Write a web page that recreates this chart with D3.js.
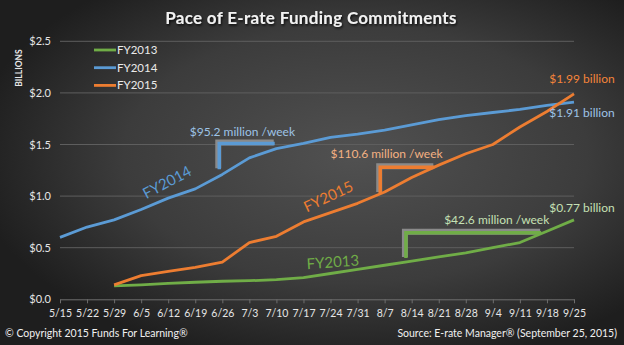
<!DOCTYPE html>
<html><head><meta charset="utf-8">
<script src="https://cdn.jsdelivr.net/npm/d3@7"></script>
<style>
html,body{margin:0;padding:0;background:#2a2a2a;}
svg{display:block;font-family:Lato,"Liberation Sans",sans-serif;}
</style></head>
<body>
<svg id="c" width="624" height="345"></svg>
<script>
const categories = ["5/15","5/22","5/29","6/5","6/12","6/19","6/26","7/3","7/10","7/17","7/24","7/31","8/7","8/14","8/21","8/28","9/4","9/11","9/18","9/25"];
const fy2014 = [0.60,0.70,0.77,0.87,0.98,1.07,1.21,1.37,1.46,1.51,1.57,1.60,1.64,1.69,1.74,1.78,1.81,1.84,1.88,1.91];
const fy2015 = [null,null,0.14,0.23,0.27,0.31,0.36,0.55,0.61,0.75,0.84,0.93,1.04,1.18,1.30,1.41,1.50,1.67,1.82,1.99];
const fy2013 = [null,null,0.13,0.14,0.155,0.165,0.175,0.18,0.19,0.21,0.25,0.29,0.33,0.37,0.41,0.45,0.50,0.55,0.66,0.77];
const yTicks = [0,0.5,1.0,1.5,2.0,2.5];
const seriesNames = ["FY2013","FY2014","FY2015"];
const colors = {FY2013:"#70AD47",FY2014:"#5B9BD5",FY2015:"#ED7D31"};
const lightColors = {FY2013:"#C5E0B4",FY2014:"#9DC3E6",FY2015:"#F4B183"};

const svg = d3.select("#c");
const W=624,H=345;
const defs = svg.append("defs");
const rg = defs.append("radialGradient").attr("id","bg").attr("cx","0.57").attr("cy","0.45").attr("r","0.62")
  .attr("gradientUnits","objectBoundingBox");
rg.append("stop").attr("offset","0").attr("stop-color","#515151");
rg.append("stop").attr("offset","0.6").attr("stop-color","#3c3c3c");
rg.append("stop").attr("offset","1").attr("stop-color","#1e1e1e");
const sh = defs.append("filter").attr("id","sh").attr("x","-10%").attr("y","-50%").attr("width","120%").attr("height","200%");
sh.append("feDropShadow").attr("dx",1).attr("dy",1.5).attr("stdDeviation",1).attr("flood-color","#000").attr("flood-opacity",0.8);

svg.append("rect").attr("width",W).attr("height",H).attr("fill","url(#bg)");

const x = d3.scalePoint().domain(categories).range([60,574]).padding(0);
const xi = d3.scaleLinear().domain([0,categories.length-1]).range([60,574]);
const y = d3.scaleLinear().domain([0,2.5]).range([299.3,41.3]);

// gridlines
svg.append("g").selectAll("line").data(yTicks.filter(d=>d>0)).join("line")
  .attr("x1",60).attr("x2",574).attr("y1",d=>y(d)).attr("y2",d=>y(d))
  .attr("stroke","#5e5e5e").attr("stroke-width",1);

// x axis
const xAxis = svg.append("g").attr("transform",`translate(0,${y(0)})`)
  .call(d3.axisBottom(x).tickSizeInner(4).tickSizeOuter(0).tickPadding(6));
xAxis.select(".domain").attr("stroke","#6e6e6e");
xAxis.selectAll(".tick line").attr("stroke","#6e6e6e");
xAxis.selectAll(".tick text").attr("fill","#e6e6e6").attr("font-size","10.5px").attr("font-family","Lato");

// y axis
const yAxis = svg.append("g").attr("transform","translate(51,0)")
  .call(d3.axisLeft(y).tickValues(yTicks).tickSize(0).tickPadding(0).tickFormat(d=>"$"+d3.format(".1f")(d)));
yAxis.select(".domain").remove();
yAxis.selectAll(".tick text").attr("fill","#e6e6e6").attr("font-size","11px").attr("font-family","Lato");

svg.append("text").attr("transform","translate(22,68) rotate(-90)").attr("text-anchor","middle")
  .attr("fill","#e6e6e6").attr("font-size","8.5px").attr("font-weight","bold").text("BILLIONS");

// title
svg.append("text").attr("x",311).attr("y",24).attr("text-anchor","middle").attr("fill","#f2f2f2")
  .attr("font-size","17px").attr("font-weight","bold").attr("letter-spacing","0.3px").attr("filter","url(#sh)").text("Pace of E-rate Funding Commitments");

// annotations brackets (drawn beneath lines)
const brackets = [
  {s:"FY2014", i0:5.85, i1:7.9, top:1.52, bot:1.27, label:"$95.2 million /week", li:4.8, lv:1.58},
  {s:"FY2015", i0:11.8, i1:13.8, top:1.29, bot:1.04, label:"$110.6 million /week", li:10.0, lv:1.37},
  {s:"FY2013", i0:12.75, i1:17.75, top:0.655, bot:0.41, label:"$42.6 million /week", li:14.2, lv:0.73}
];
const bg = svg.append("g");
brackets.forEach(b=>{
  const p = `M${xi(b.i0)},${y(b.bot)} L${xi(b.i0)},${y(b.top)} L${xi(b.i1)},${y(b.top)}`;
  bg.append("path").attr("d",p).attr("fill","none").attr("stroke","#8a8a8a").attr("stroke-width",6).attr("stroke-linejoin","miter");
  bg.append("path").attr("d",p).attr("fill","none").attr("stroke",colors[b.s]).attr("stroke-width",3.5)
    .attr("transform","translate(1,1)");
  bg.append("text").attr("x",xi(b.li)).attr("y",y(b.lv)).attr("fill",lightColors[b.s]).attr("font-size","12px").text(b.label);
});

// lines
const data = {FY2013:fy2013,FY2014:fy2014,FY2015:fy2015};
const line = d3.line().defined(d=>d.v!=null).x(d=>x(d.c)).y(d=>y(d.v));
seriesNames.forEach(s=>{
  svg.append("path").datum(categories.map((c,i)=>({c,v:data[s][i]})))
    .attr("d",line).attr("fill","none").attr("stroke",colors[s]).attr("stroke-width",2.8).attr("stroke-linejoin","round");
});

// in-line series labels
const inl = [
  {s:"FY2014", i:4.05, v:1.09, rot:-28},
  {s:"FY2015", i:10.0, v:0.95, rot:-25},
  {s:"FY2013", i:10.1, v:0.31, rot:-4}
];
inl.forEach(t=>{
  svg.append("text").attr("transform",`translate(${xi(t.i)},${y(t.v)}) rotate(${t.rot})`)
    .attr("text-anchor","middle").attr("fill",colors[t.s]).attr("font-size","15px").text(t.s);
});

// end labels
const ends = [
  {s:"FY2015", v:fy2015[19], dy:-11, col:"#F4843A"},
  {s:"FY2014", v:fy2014[19], dy:15, col:lightColors.FY2014},
  {s:"FY2013", v:fy2013[19], dy:-8, col:lightColors.FY2013}
];
ends.forEach(e=>{
  svg.append("text").attr("x",x("9/25")+8).attr("y",y(e.v)+e.dy).attr("text-anchor","middle")
    .attr("fill",e.col).attr("font-size","12px").text("$"+e.v.toFixed(2)+" billion");
});

// legend
const lg = svg.append("g");
seriesNames.forEach((s,i)=>{
  const yy = 50 + i*17.7;
  lg.append("line").attr("x1",94).attr("x2",116).attr("y1",yy).attr("y2",yy).attr("stroke",colors[s]).attr("stroke-width",2.8);
  lg.append("text").attr("x",117).attr("y",yy+4).attr("fill","#eaeaea").attr("font-size","11.5px").text(s);
});

// footer
svg.append("text").attr("x",5).attr("y",337).attr("fill","#f0f0f0").attr("font-size","10.5px").text("© Copyright 2015 Funds For Learning®");
svg.append("text").attr("x",617).attr("y",337).attr("text-anchor","end").attr("fill","#f0f0f0").attr("font-size","10.5px").text("Source: E-rate Manager® (September 25, 2015)");
</script>
</body></html>
